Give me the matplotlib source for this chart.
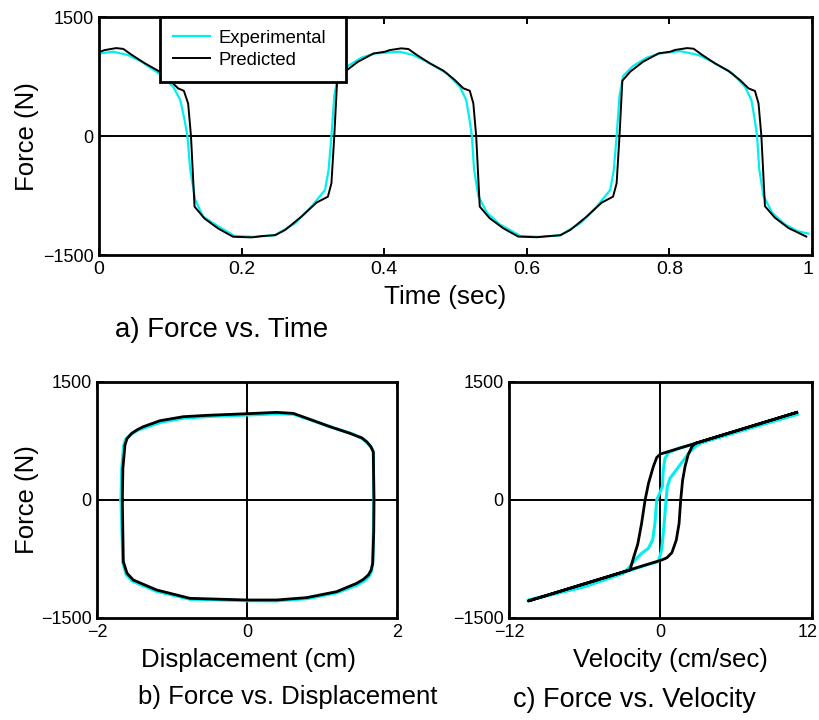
import matplotlib
matplotlib.use('Agg')
import matplotlib.pyplot as plt
import matplotlib.transforms as mtransforms

plt.rcParams['font.family'] = ['Liberation Sans', 'DejaVu Sans']

# a) force vs time
t_exp = [0.000, 0.020, 0.041, 0.060, 0.086, 0.104, 0.114, 0.120, 0.124, 0.128,
         0.135, 0.146, 0.163, 0.190, 0.219, 0.247, 0.275, 0.298, 0.317, 0.322,
         0.326, 0.330, 0.335, 0.349, 0.368, 0.387, 0.422, 0.441, 0.460, 0.488,
         0.506, 0.515, 0.519, 0.523, 0.526, 0.532, 0.544, 0.562, 0.591, 0.619,
         0.647, 0.675, 0.698, 0.717, 0.722, 0.726, 0.730, 0.735, 0.749, 0.768,
         0.787, 0.815, 0.841, 0.860, 0.888, 0.906, 0.915, 0.919, 0.923, 0.926,
         0.932, 0.944, 0.962, 0.980, 0.995]
f_exp = [1040, 1062, 1020, 935, 775, 621, 454, 202, 0, -428,
         -806, -1016, -1115, -1260, -1272, -1250, -1100, -890, -680, -428,
         0, 504, 756, 882, 987, 1041, 1062, 1020, 937, 790,
         622, 454, 244, 0, -420, -756, -966, -1113, -1260, -1272,
         -1251, -1100, -890, -680, -428, 0, 504, 756, 882, 987,
         1041, 1070, 1020, 937, 790, 622, 454, 244, 0, -420,
         -756, -966, -1113, -1200, -1230]

t_pred = [0.000, 0.008, 0.024, 0.034, 0.046, 0.064, 0.083, 0.099, 0.111, 0.119,
          0.125, 0.129, 0.134, 0.148, 0.167, 0.188, 0.214, 0.228, 0.247, 0.261,
          0.284, 0.305, 0.321, 0.326, 0.330, 0.334, 0.345, 0.363, 0.385, 0.401,
          0.408, 0.424, 0.434, 0.446, 0.464, 0.483, 0.499, 0.511, 0.520, 0.525,
          0.529, 0.534, 0.548, 0.567, 0.588, 0.614, 0.628, 0.647, 0.661, 0.684,
          0.705, 0.721, 0.726, 0.730, 0.734, 0.745, 0.763, 0.785, 0.801, 0.808,
          0.825, 0.834, 0.846, 0.864, 0.883, 0.899, 0.911, 0.920, 0.925, 0.929,
          0.934, 0.948, 0.967, 0.992]
f_pred = [1058, 1083, 1108, 1098, 1022, 918, 822, 705, 600, 570,
          410, 0, -890, -1040, -1165, -1270, -1278, -1262, -1250, -1185,
          -1015, -840, -765, -595, 0, 700, 812, 935, 1040, 1062,
          1083, 1105, 1096, 1020, 916, 823, 706, 601, 571, 412,
          0, -890, -1037, -1163, -1268, -1276, -1264, -1251, -1184, -1016,
          -840, -764, -596, 0, 697, 810, 936, 1042, 1062, 1085,
          1108, 1100, 1022, 915, 820, 705, 600, 568, 410, 0,
          -885, -1030, -1160, -1268]

# b) force vs displacement
x_exp = [-1.68, -1.67, -1.645, -1.62, -1.55, -1.47, -1.39, -1.16, -0.85, -0.54,
         0.00, 0.40, 0.62, 0.84, 1.11, 1.38, 1.54, 1.62, 1.665, 1.685,
         1.69, 1.685, 1.675, 1.66, 1.625, 1.56, 1.47, 1.20, 0.80, 0.40,
         0.00, -0.76, -1.21, -1.53, -1.61, -1.655, -1.68]
fx_exp = [0, 400, 690, 770, 830, 880, 910, 985, 1040, 1060,
          1080, 1095, 1090, 1020, 930, 850, 780, 710, 655, 600,
          0, -400, -820, -905, -975, -1030, -1080, -1180, -1255, -1282,
          -1280, -1262, -1160, -1030, -950, -800, 0]
x_pred = [-1.662, -1.655, -1.627, -1.600, -1.538, -1.460, -1.382, -1.160, -0.849, -0.538,
          -0.004, 0.396, 0.618, 0.840, 1.107, 1.373, 1.530, 1.596, 1.650, 1.684,
          1.693, 1.690, 1.676, 1.655, 1.618, 1.550, 1.462, 1.196, 0.796, 0.396,
          0.000, -0.760, -1.204, -1.516, -1.600, -1.649, -1.662]
fx_pred = [0, 400, 699, 780, 847, 895, 932, 1008, 1059, 1076,
           1097, 1114, 1101, 1025, 932, 847, 790, 741, 680, 614,
           0, -400, -805, -890, -953, -1010, -1059, -1165, -1241, -1271,
           -1271, -1250, -1144, -1017, -930, -784, 0]

# c) force vs velocity
v_exp = [10.8, 6.0, 3.3, 1.5, 0.62, 0.36, 0.22, 0.15, -0.30, -0.44,
         -0.62, -0.96, -1.49, -2.02, -2.55, -2.94, -6.0, -10.5, -6.0, -2.5,
         -1.2, -0.17, 0.09, 0.22, 0.36, 0.44, 0.54, 0.75, 1.15, 1.54,
         1.94, 2.34, 2.73, 3.26, 6.0, 10.8]
fv_exp = [1090, 860, 735, 660, 601, 530, 381, 169, 0, -296,
          -508, -614, -678, -763, -868, -932, -1100, -1275, -1095, -900,
          -830, -784, -636, -424, -169, 0, 169, 275, 360, 445,
          530, 614, 678, 729, 870, 1090]
v_pred = [10.79, 0.00, -0.30, -0.57, -0.95, -1.22, -1.50, -1.80, -2.15, -2.42,
          -10.47, 0.09, 0.50, 0.90, 1.25, 1.47, 1.60, 1.75, 1.95, 2.20,
          2.50, 2.75, 10.79]
fv_pred = [1114, 585, 540, 424, 212, 0, -300, -560, -740, -890,
           -1284, -763, -735, -670, -510, -300, 0, 250, 430, 580,
           680, 720, 1114]

W, H = 820, 720


def fx(px):
    return px / W


def fy(py):
    return 1 - py / H


fig = plt.figure(figsize=(8.2, 7.2), dpi=100)
ax1 = fig.add_axes([fx(99), fy(255), (812 - 99) / W, (255 - 17) / H])
ax2 = fig.add_axes([fx(97), fy(618), (397 - 97) / W, (618 - 382) / H])
ax3 = fig.add_axes([fx(509), fy(618), (812 - 509) / W, (618 - 382) / H])

cyan = '#00f0f0'
for ax in (ax1, ax2, ax3):
    for s in ax.spines.values():
        s.set_linewidth(2.0)
    ax.tick_params(direction='in', top=True, right=False, length=5, width=1.4,
                   labelsize=13, pad=4)
    ax.axhline(0, color='k', lw=1.4, zorder=1)
    ax.set_ylim(-1500, 1500)
    ax.set_yticks([-1500, 0, 1500])
    ax.set_yticklabels(['\u22121500', '0', '1500'])

ax1.plot(t_exp, f_exp, color=cyan, lw=1.6, label='Experimental')
ax1.plot(t_pred, f_pred, color='k', lw=1.4, label='Predicted')
ax1.set_xlim(0, 1)
ax1.set_xticks([0, 0.2, 0.4, 0.6, 0.8, 1])
ax1.set_xticklabels(['0', '0.2', '0.4', '0.6', '0.8', '1'], fontsize=14)
leg = ax1.legend(loc='upper left', bbox_to_anchor=(0.0856, 0.5, 0.2604, 0.5),
                 mode='expand', borderaxespad=0, fancybox=False, framealpha=1,
                 edgecolor='k', fontsize=13.3, handlelength=2.0, handletextpad=0.45,
                 borderpad=0.7, labelspacing=0.26)
leg.get_frame().set_linewidth(2.0)

ax2.axvline(0, color='k', lw=1.4, zorder=1)
ax2.plot(x_exp, fx_exp, color=cyan, lw=2.2)
ax2.plot(x_pred, fx_pred, color='k', lw=2.0)
ax2.set_xlim(-2, 2)
ax2.set_xticks([-2, 0, 2])
ax2.set_xticklabels(['\u22122', '0', '2'])

ax3.axvline(0, color='k', lw=1.4, zorder=1)
ax3.plot(v_exp, fv_exp, color=cyan, lw=2.2)
ax3.plot(v_pred, fv_pred, color='k', lw=2.0)
ax3.set_xlim(-12, 12)
ax3.set_xticks([-12, 0, 12])
ax3.set_xticklabels(['\u221212', '0', '12'])

# keep the right-most tick labels inside the figure
shift = mtransforms.ScaledTranslation(-4 / 100, 0, fig.dpi_scale_trans)
for lab in (ax1.get_xticklabels()[-1], ax3.get_xticklabels()[-1]):
    lab.set_transform(lab.get_transform() + shift)

fig.text(fx(27), fy(137), 'Force (N)', rotation=90, ha='center', va='center', fontsize=18.5)
fig.text(fx(27), fy(500), 'Force (N)', rotation=90, ha='center', va='center', fontsize=18.5)
fig.text(fx(445), fy(297), 'Time (sec)', ha='center', va='center', fontsize=18.8)
fig.text(fx(115), fy(330), 'a) Force vs. Time', ha='left', va='center', fontsize=19.9)
fig.text(fx(249), fy(660), 'Displacement (cm)', ha='center', va='center', fontsize=18.5)
fig.text(fx(138), fy(697), 'b) Force vs. Displacement', ha='left', va='center', fontsize=18.5)
fig.text(fx(670), fy(660), 'Velocity (cm/sec)', ha='center', va='center', fontsize=18.5)
fig.text(fx(513), fy(700), 'c) Force vs. Velocity', ha='left', va='center', fontsize=19.5)

fig.savefig('out.png', dpi=100)
